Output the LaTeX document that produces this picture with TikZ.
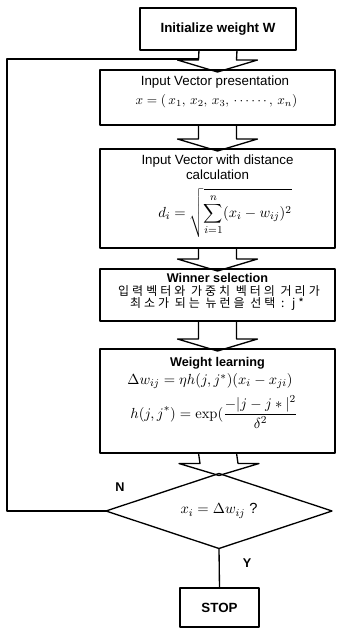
\documentclass[tikz,border=0pt]{standalone}
\usepackage[no-math]{fontspec}
\setmainfont{Liberation Sans}
\newfontfamily\kor[LetterSpace=25]{Noto Sans CJK KR}
\usetikzlibrary{calc,shapes.geometric}

\newcommand\blockarrow[2]{%
  \draw[barrow] ($(#1.south)+(-19,0)$) -- ($(#2.north)+(-19,-10)$) -- ($(#2.north)+(-40,-10)$)
    -- ($(#2.north)+(0,2)$) -- ($(#2.north)+(40,-10)$) -- ($(#2.north)+(19,-10)$) -- ($(#1.south)+(19,0)$);}

\begin{document}
\begin{tikzpicture}[x=0.75pt, y=-0.75pt, line join=round, font=\fontsize{10}{12}\selectfont,
    every node/.style={outer sep=0pt, inner sep=0pt},
    box/.style={draw, line width=1pt},
    bold/.style={font=\fontsize{9.5}{11}\selectfont\bfseries},
    kortext/.style={font=\fontsize{9}{11}\selectfont\kor},
    maths/.style={font=\fontsize{11}{13}\selectfont},
    barrow/.style={line width=1pt}]
  \useasboundingbox (0,0) rectangle (337,628);
  % boxes
  \node[box, minimum width=117pt, minimum height=31.5pt, font=\fontsize{10}{12}\selectfont\bfseries] (init) at (218,29) {Initialize weight W};
  \node[box, minimum width=176.25pt, minimum height=41.25pt] (vec) at (217.5,97.5) {};
  \node[box, minimum width=176.25pt, minimum height=74.25pt] (dist) at (217.5,198.5) {};
  \node[box, minimum width=176.25pt, minimum height=39pt] (win) at (217.5,295) {};
  \node[box, minimum width=176.25pt, minimum height=78pt] (learn) at (217.5,401) {};
  \node[box, diamond, aspect=3, minimum width=169.5pt, minimum height=56.25pt, maths] (dec) at (219,511) {$x_i=\Delta w_{ij}$ ?};
  \node[box, minimum width=59.25pt, minimum height=29.25pt, font=\fontsize{10}{12}\selectfont\bfseries] (stop) at (219.5,607.5) {STOP};
  % texts
  \node (vect) at (215,82) {Input Vector presentation};
  \node[font=\fontsize{10}{12}\selectfont] (vecf) at (216.5,101) {$x=(\,x_1,\,x_2,\,x_3,\,\cdots\cdots,\,x_n)$};
  \node (distt) at (217.5,161) {Input Vector with distance};
  \node (distu) at (217.5,175) {calculation};
  \node[maths] (distf) at (225,213) {$\displaystyle d_i=\sqrt{\sum_{i=1}^{n}(x_i-w_{ij})^2}$};
  \node[bold] (wint) at (217.5,278) {Winner selection};
  \node[kortext] (winu) at (219,291) {입력벡터와 가중치 벡터의 거리가};
  \node[kortext] (winv) at (217,304) {최소가 되는 뉴런을 선택 : j*};
  \node[bold] (learnt) at (217.5,363) {Weight learning};
  \node[maths] (learnf) at (210,381) {$\Delta w_{ij}=\eta h(j,j^*)(x_i-x_{ji})$};
  \node[maths] (learng) at (214,412) {$\displaystyle h(j,j^*)=\exp(\frac{-|j-j*|^2}{\delta^2}$};
  % arrows
  \foreach \a/\b in {init/vec,vec/dist,dist/win,win/learn,learn/dec}{\blockarrow{\a}{\b}}
  \coordinate (fb) at (199,59);
  \draw[line width=1pt] (dec.west) -- (7,511) |- (fb);
  \draw[line width=1pt] (dec.south) -- (stop.north);
  \node[bold] (no) at (120,487) {N};
  \node[bold] (yes) at (247,563) {Y};
\end{tikzpicture}
\end{document}
